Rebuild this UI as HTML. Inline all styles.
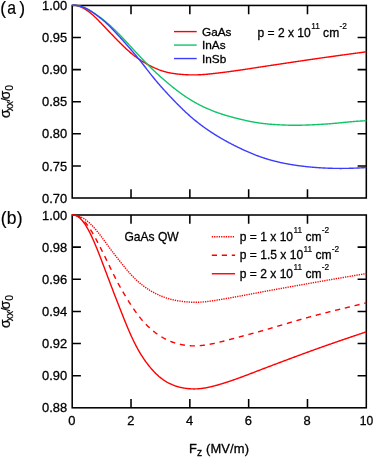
<!DOCTYPE html>
<html><head><meta charset="utf-8"><title>chart</title>
<style>html,body{margin:0;padding:0;background:#fff;}body{width:374px;height:458px;overflow:hidden;font-family:"Liberation Sans",sans-serif;}svg{display:block;will-change:transform;}</style></head>
<body>
<svg width="374" height="458" viewBox="0 0 374 458">
<rect width="374" height="458" fill="#fff"/>
<g font-family="'Liberation Sans', sans-serif" fill="#000">
<rect x="72.2" y="5.45" width="294.10" height="192.55" fill="none" stroke="#000" stroke-width="1.55"/>
<path d="M131.02 5.45 v8.7 M131.02 198.0 v-8.7 M189.84 5.45 v8.7 M189.84 198.0 v-8.7 M248.66 5.45 v8.7 M248.66 198.0 v-8.7 M307.48 5.45 v8.7 M307.48 198.0 v-8.7 M72.2 37.54 h8.7 M366.3 37.54 h-8.7 M72.2 69.63 h8.7 M366.3 69.63 h-8.7 M72.2 101.73 h8.7 M366.3 101.73 h-8.7 M72.2 133.82 h8.7 M366.3 133.82 h-8.7 M72.2 165.91 h8.7 M366.3 165.91 h-8.7" fill="none" stroke="#000" stroke-width="1.55"/>
<rect x="72.2" y="215.0" width="294.10" height="192.80" fill="none" stroke="#000" stroke-width="1.55"/>
<path d="M131.02 215.0 v8.7 M131.02 407.8 v-8.7 M189.84 215.0 v8.7 M189.84 407.8 v-8.7 M248.66 215.0 v8.7 M248.66 407.8 v-8.7 M307.48 215.0 v8.7 M307.48 407.8 v-8.7 M72.2 247.13 h8.7 M366.3 247.13 h-8.7 M72.2 279.27 h8.7 M366.3 279.27 h-8.7 M72.2 311.40 h8.7 M366.3 311.40 h-8.7 M72.2 343.53 h8.7 M366.3 343.53 h-8.7 M72.2 375.67 h8.7 M366.3 375.67 h-8.7" fill="none" stroke="#000" stroke-width="1.55"/>
<g fill="none" stroke-linejoin="round" stroke-linecap="butt">
<path d="M72.20 5.10 L72.79 5.11 L73.38 5.13 L73.96 5.17 L74.55 5.23 L75.14 5.31 L75.73 5.40 L76.32 5.51 L76.91 5.64 L77.49 5.79 L78.08 5.95 L78.67 6.13 L79.26 6.32 L79.85 6.53 L80.43 6.76 L81.02 7.01 L81.61 7.27 L82.20 7.55 L82.79 7.84 L83.38 8.15 L83.96 8.47 L84.55 8.81 L85.14 9.17 L85.73 9.54 L86.32 9.92 L86.91 10.32 L87.49 10.74 L88.08 11.16 L88.67 11.60 L89.26 12.06 L89.85 12.52 L90.43 13.00 L91.02 13.49 L91.61 13.99 L92.20 14.50 L92.79 15.02 L93.38 15.55 L93.96 16.09 L94.55 16.64 L95.14 17.20 L95.73 17.76 L96.32 18.34 L96.90 18.92 L97.49 19.50 L98.08 20.09 L98.67 20.69 L99.26 21.29 L99.85 21.89 L100.43 22.50 L101.02 23.11 L101.61 23.72 L102.20 24.34 L102.79 24.96 L103.37 25.58 L103.96 26.20 L104.55 26.82 L105.14 27.44 L105.73 28.06 L106.32 28.69 L106.90 29.31 L107.49 29.93 L108.08 30.55 L108.67 31.17 L109.26 31.79 L109.84 32.40 L110.43 33.02 L111.02 33.64 L111.61 34.25 L112.20 34.86 L112.79 35.47 L113.37 36.08 L113.96 36.69 L114.55 37.30 L115.14 37.90 L115.73 38.50 L116.31 39.11 L116.90 39.71 L117.49 40.31 L118.08 40.90 L118.67 41.50 L119.26 42.09 L119.84 42.68 L120.43 43.27 L121.02 43.85 L121.61 44.43 L122.20 45.01 L122.79 45.59 L123.37 46.16 L123.96 46.72 L124.55 47.29 L125.14 47.84 L125.73 48.39 L126.31 48.94 L126.90 49.48 L127.49 50.02 L128.08 50.55 L128.67 51.07 L129.26 51.59 L129.84 52.10 L130.43 52.60 L131.02 53.10 L131.61 53.59 L132.20 54.07 L132.78 54.55 L133.37 55.01 L133.96 55.47 L134.55 55.93 L135.14 56.37 L135.73 56.81 L136.31 57.25 L136.90 57.67 L137.49 58.09 L138.08 58.50 L138.67 58.91 L139.25 59.31 L139.84 59.70 L140.43 60.09 L141.02 60.48 L141.61 60.85 L142.20 61.23 L142.78 61.59 L143.37 61.96 L143.96 62.31 L144.55 62.67 L145.14 63.01 L145.73 63.36 L146.31 63.70 L146.90 64.03 L147.49 64.36 L148.08 64.69 L148.67 65.01 L149.25 65.32 L149.84 65.63 L150.43 65.94 L151.02 66.24 L151.61 66.54 L152.20 66.83 L152.78 67.11 L153.37 67.39 L153.96 67.67 L154.55 67.93 L155.14 68.20 L155.72 68.45 L156.31 68.71 L156.90 68.95 L157.49 69.19 L158.08 69.43 L158.67 69.65 L159.25 69.88 L159.84 70.09 L160.43 70.30 L161.02 70.50 L161.61 70.70 L162.19 70.89 L162.78 71.08 L163.37 71.26 L163.96 71.43 L164.55 71.60 L165.14 71.76 L165.72 71.92 L166.31 72.07 L166.90 72.21 L167.49 72.35 L168.08 72.49 L168.66 72.61 L169.25 72.74 L169.84 72.86 L170.43 72.97 L171.02 73.08 L171.61 73.18 L172.19 73.28 L172.78 73.38 L173.37 73.47 L173.96 73.56 L174.55 73.65 L175.14 73.73 L175.72 73.81 L176.31 73.88 L176.90 73.95 L177.49 74.02 L178.08 74.09 L178.66 74.15 L179.25 74.21 L179.84 74.27 L180.43 74.32 L181.02 74.37 L181.61 74.42 L182.19 74.47 L182.78 74.51 L183.37 74.56 L183.96 74.60 L184.55 74.63 L185.13 74.67 L185.72 74.70 L186.31 74.73 L186.90 74.76 L187.49 74.79 L188.08 74.81 L188.66 74.83 L189.25 74.85 L189.84 74.87 L190.43 74.88 L191.02 74.89 L191.60 74.90 L192.19 74.91 L192.78 74.91 L193.37 74.91 L193.96 74.91 L194.55 74.90 L195.13 74.89 L195.72 74.88 L196.31 74.87 L196.90 74.86 L197.49 74.84 L198.07 74.82 L198.66 74.79 L199.25 74.77 L199.84 74.74 L200.43 74.71 L201.02 74.68 L201.60 74.64 L202.19 74.60 L202.78 74.56 L203.37 74.52 L203.96 74.48 L204.55 74.43 L205.13 74.38 L205.72 74.34 L206.31 74.28 L206.90 74.23 L207.49 74.18 L208.07 74.12 L208.66 74.06 L209.25 74.01 L209.84 73.95 L210.43 73.89 L211.02 73.82 L211.60 73.76 L212.19 73.70 L212.78 73.63 L213.37 73.57 L213.96 73.50 L214.54 73.44 L215.13 73.37 L215.72 73.30 L216.31 73.23 L216.90 73.16 L217.49 73.09 L218.07 73.02 L218.66 72.95 L219.25 72.88 L219.84 72.81 L220.43 72.74 L221.01 72.67 L221.60 72.60 L222.19 72.52 L222.78 72.45 L223.37 72.38 L223.96 72.30 L224.54 72.23 L225.13 72.15 L225.72 72.08 L226.31 72.00 L226.90 71.92 L227.48 71.85 L228.07 71.77 L228.66 71.69 L229.25 71.62 L229.84 71.54 L230.43 71.46 L231.01 71.38 L231.60 71.30 L232.19 71.22 L232.78 71.14 L233.37 71.06 L233.96 70.98 L234.54 70.89 L235.13 70.81 L235.72 70.73 L236.31 70.65 L236.90 70.56 L237.48 70.48 L238.07 70.39 L238.66 70.31 L239.25 70.22 L239.84 70.14 L240.43 70.05 L241.01 69.97 L241.60 69.88 L242.19 69.79 L242.78 69.71 L243.37 69.62 L243.95 69.53 L244.54 69.44 L245.13 69.35 L245.72 69.26 L246.31 69.17 L246.90 69.08 L247.48 69.00 L248.07 68.91 L248.66 68.82 L249.25 68.73 L249.84 68.64 L250.42 68.54 L251.01 68.45 L251.60 68.36 L252.19 68.27 L252.78 68.18 L253.37 68.09 L253.95 68.00 L254.54 67.91 L255.13 67.82 L255.72 67.73 L256.31 67.64 L256.89 67.55 L257.48 67.46 L258.07 67.37 L258.66 67.27 L259.25 67.18 L259.84 67.09 L260.42 67.00 L261.01 66.91 L261.60 66.82 L262.19 66.73 L262.78 66.64 L263.37 66.55 L263.95 66.46 L264.54 66.37 L265.13 66.28 L265.72 66.19 L266.31 66.11 L266.89 66.02 L267.48 65.93 L268.07 65.84 L268.66 65.75 L269.25 65.66 L269.84 65.57 L270.42 65.48 L271.01 65.39 L271.60 65.30 L272.19 65.22 L272.78 65.13 L273.36 65.04 L273.95 64.95 L274.54 64.86 L275.13 64.77 L275.72 64.69 L276.31 64.60 L276.89 64.51 L277.48 64.42 L278.07 64.33 L278.66 64.24 L279.25 64.16 L279.83 64.07 L280.42 63.98 L281.01 63.89 L281.60 63.80 L282.19 63.72 L282.78 63.63 L283.36 63.54 L283.95 63.45 L284.54 63.36 L285.13 63.27 L285.72 63.19 L286.30 63.10 L286.89 63.01 L287.48 62.92 L288.07 62.84 L288.66 62.75 L289.25 62.66 L289.83 62.57 L290.42 62.48 L291.01 62.40 L291.60 62.31 L292.19 62.22 L292.77 62.13 L293.36 62.05 L293.95 61.96 L294.54 61.87 L295.13 61.78 L295.72 61.70 L296.30 61.61 L296.89 61.52 L297.48 61.43 L298.07 61.35 L298.66 61.26 L299.25 61.17 L299.83 61.09 L300.42 61.00 L301.01 60.91 L301.60 60.83 L302.19 60.74 L302.77 60.65 L303.36 60.57 L303.95 60.48 L304.54 60.39 L305.13 60.31 L305.72 60.22 L306.30 60.13 L306.89 60.05 L307.48 59.96 L308.07 59.88 L308.66 59.79 L309.24 59.71 L309.83 59.62 L310.42 59.54 L311.01 59.45 L311.60 59.37 L312.19 59.28 L312.77 59.20 L313.36 59.11 L313.95 59.03 L314.54 58.94 L315.13 58.86 L315.71 58.77 L316.30 58.69 L316.89 58.60 L317.48 58.52 L318.07 58.43 L318.66 58.35 L319.24 58.27 L319.83 58.18 L320.42 58.10 L321.01 58.02 L321.60 57.93 L322.19 57.85 L322.77 57.77 L323.36 57.68 L323.95 57.60 L324.54 57.52 L325.13 57.43 L325.71 57.35 L326.30 57.27 L326.89 57.18 L327.48 57.10 L328.07 57.02 L328.66 56.94 L329.24 56.85 L329.83 56.77 L330.42 56.69 L331.01 56.61 L331.60 56.53 L332.18 56.44 L332.77 56.36 L333.36 56.28 L333.95 56.20 L334.54 56.12 L335.13 56.04 L335.71 55.95 L336.30 55.87 L336.89 55.79 L337.48 55.71 L338.07 55.63 L338.65 55.55 L339.24 55.47 L339.83 55.39 L340.42 55.31 L341.01 55.22 L341.60 55.14 L342.18 55.06 L342.77 54.98 L343.36 54.90 L343.95 54.82 L344.54 54.74 L345.12 54.66 L345.71 54.58 L346.30 54.50 L346.89 54.42 L347.48 54.34 L348.07 54.26 L348.65 54.18 L349.24 54.10 L349.83 54.02 L350.42 53.94 L351.01 53.86 L351.60 53.78 L352.18 53.70 L352.77 53.62 L353.36 53.54 L353.95 53.47 L354.54 53.39 L355.12 53.31 L355.71 53.23 L356.30 53.15 L356.89 53.07 L357.48 52.99 L358.07 52.91 L358.65 52.83 L359.24 52.75 L359.83 52.68 L360.42 52.60 L361.01 52.52 L361.59 52.44 L362.18 52.36 L362.77 52.28 L363.36 52.20 L363.95 52.12 L364.54 52.05 L365.12 51.97 L365.71 51.89 L366.30 51.81" stroke="#ff0000" stroke-width="1.4"/>
<path d="M72.20 5.10 L72.79 5.10 L73.38 5.12 L73.96 5.15 L74.55 5.18 L75.14 5.23 L75.73 5.30 L76.32 5.37 L76.91 5.46 L77.49 5.55 L78.08 5.66 L78.67 5.79 L79.26 5.92 L79.85 6.07 L80.43 6.22 L81.02 6.39 L81.61 6.58 L82.20 6.77 L82.79 6.98 L83.38 7.20 L83.96 7.43 L84.55 7.67 L85.14 7.93 L85.73 8.20 L86.32 8.48 L86.91 8.77 L87.49 9.07 L88.08 9.38 L88.67 9.71 L89.26 10.04 L89.85 10.38 L90.43 10.73 L91.02 11.10 L91.61 11.46 L92.20 11.84 L92.79 12.22 L93.38 12.61 L93.96 13.00 L94.55 13.40 L95.14 13.81 L95.73 14.22 L96.32 14.63 L96.90 15.04 L97.49 15.46 L98.08 15.89 L98.67 16.31 L99.26 16.74 L99.85 17.18 L100.43 17.61 L101.02 18.05 L101.61 18.50 L102.20 18.95 L102.79 19.41 L103.37 19.87 L103.96 20.33 L104.55 20.81 L105.14 21.29 L105.73 21.77 L106.32 22.26 L106.90 22.76 L107.49 23.26 L108.08 23.77 L108.67 24.29 L109.26 24.81 L109.84 25.33 L110.43 25.86 L111.02 26.39 L111.61 26.93 L112.20 27.48 L112.79 28.03 L113.37 28.58 L113.96 29.14 L114.55 29.70 L115.14 30.27 L115.73 30.84 L116.31 31.41 L116.90 31.99 L117.49 32.58 L118.08 33.17 L118.67 33.76 L119.26 34.36 L119.84 34.97 L120.43 35.57 L121.02 36.18 L121.61 36.80 L122.20 37.42 L122.79 38.04 L123.37 38.66 L123.96 39.29 L124.55 39.92 L125.14 40.55 L125.73 41.18 L126.31 41.82 L126.90 42.45 L127.49 43.09 L128.08 43.72 L128.67 44.36 L129.26 45.00 L129.84 45.64 L130.43 46.28 L131.02 46.92 L131.61 47.56 L132.20 48.20 L132.78 48.84 L133.37 49.48 L133.96 50.12 L134.55 50.76 L135.14 51.39 L135.73 52.03 L136.31 52.67 L136.90 53.30 L137.49 53.93 L138.08 54.57 L138.67 55.20 L139.25 55.83 L139.84 56.45 L140.43 57.08 L141.02 57.70 L141.61 58.32 L142.20 58.94 L142.78 59.56 L143.37 60.17 L143.96 60.78 L144.55 61.39 L145.14 62.00 L145.73 62.60 L146.31 63.20 L146.90 63.80 L147.49 64.40 L148.08 64.99 L148.67 65.58 L149.25 66.16 L149.84 66.75 L150.43 67.33 L151.02 67.90 L151.61 68.47 L152.20 69.04 L152.78 69.61 L153.37 70.17 L153.96 70.73 L154.55 71.29 L155.14 71.84 L155.72 72.39 L156.31 72.94 L156.90 73.48 L157.49 74.03 L158.08 74.56 L158.67 75.10 L159.25 75.63 L159.84 76.16 L160.43 76.69 L161.02 77.21 L161.61 77.73 L162.19 78.25 L162.78 78.77 L163.37 79.28 L163.96 79.79 L164.55 80.30 L165.14 80.81 L165.72 81.31 L166.31 81.81 L166.90 82.31 L167.49 82.81 L168.08 83.30 L168.66 83.79 L169.25 84.28 L169.84 84.77 L170.43 85.25 L171.02 85.74 L171.61 86.22 L172.19 86.69 L172.78 87.17 L173.37 87.64 L173.96 88.10 L174.55 88.57 L175.14 89.03 L175.72 89.49 L176.31 89.95 L176.90 90.40 L177.49 90.85 L178.08 91.30 L178.66 91.74 L179.25 92.18 L179.84 92.61 L180.43 93.04 L181.02 93.47 L181.61 93.89 L182.19 94.31 L182.78 94.73 L183.37 95.14 L183.96 95.55 L184.55 95.95 L185.13 96.35 L185.72 96.74 L186.31 97.14 L186.90 97.52 L187.49 97.90 L188.08 98.28 L188.66 98.66 L189.25 99.03 L189.84 99.40 L190.43 99.76 L191.02 100.12 L191.60 100.47 L192.19 100.82 L192.78 101.17 L193.37 101.51 L193.96 101.85 L194.55 102.19 L195.13 102.52 L195.72 102.85 L196.31 103.17 L196.90 103.50 L197.49 103.81 L198.07 104.13 L198.66 104.44 L199.25 104.75 L199.84 105.05 L200.43 105.35 L201.02 105.65 L201.60 105.94 L202.19 106.23 L202.78 106.52 L203.37 106.80 L203.96 107.08 L204.55 107.36 L205.13 107.63 L205.72 107.90 L206.31 108.17 L206.90 108.43 L207.49 108.69 L208.07 108.95 L208.66 109.21 L209.25 109.46 L209.84 109.70 L210.43 109.95 L211.02 110.19 L211.60 110.43 L212.19 110.66 L212.78 110.90 L213.37 111.13 L213.96 111.35 L214.54 111.58 L215.13 111.80 L215.72 112.01 L216.31 112.23 L216.90 112.44 L217.49 112.65 L218.07 112.86 L218.66 113.06 L219.25 113.26 L219.84 113.46 L220.43 113.66 L221.01 113.85 L221.60 114.04 L222.19 114.23 L222.78 114.42 L223.37 114.60 L223.96 114.79 L224.54 114.97 L225.13 115.14 L225.72 115.32 L226.31 115.50 L226.90 115.67 L227.48 115.84 L228.07 116.01 L228.66 116.17 L229.25 116.34 L229.84 116.50 L230.43 116.67 L231.01 116.83 L231.60 116.99 L232.19 117.14 L232.78 117.30 L233.37 117.46 L233.96 117.61 L234.54 117.76 L235.13 117.91 L235.72 118.07 L236.31 118.21 L236.90 118.36 L237.48 118.51 L238.07 118.66 L238.66 118.80 L239.25 118.95 L239.84 119.09 L240.43 119.23 L241.01 119.37 L241.60 119.51 L242.19 119.65 L242.78 119.79 L243.37 119.93 L243.95 120.06 L244.54 120.19 L245.13 120.33 L245.72 120.46 L246.31 120.59 L246.90 120.72 L247.48 120.84 L248.07 120.97 L248.66 121.09 L249.25 121.22 L249.84 121.34 L250.42 121.46 L251.01 121.57 L251.60 121.69 L252.19 121.80 L252.78 121.91 L253.37 122.02 L253.95 122.13 L254.54 122.23 L255.13 122.33 L255.72 122.43 L256.31 122.53 L256.89 122.63 L257.48 122.72 L258.07 122.81 L258.66 122.90 L259.25 122.99 L259.84 123.07 L260.42 123.15 L261.01 123.23 L261.60 123.31 L262.19 123.39 L262.78 123.46 L263.37 123.53 L263.95 123.60 L264.54 123.67 L265.13 123.73 L265.72 123.79 L266.31 123.86 L266.89 123.91 L267.48 123.97 L268.07 124.03 L268.66 124.08 L269.25 124.13 L269.84 124.18 L270.42 124.23 L271.01 124.28 L271.60 124.32 L272.19 124.37 L272.78 124.41 L273.36 124.45 L273.95 124.49 L274.54 124.53 L275.13 124.57 L275.72 124.60 L276.31 124.64 L276.89 124.67 L277.48 124.71 L278.07 124.74 L278.66 124.77 L279.25 124.80 L279.83 124.83 L280.42 124.86 L281.01 124.89 L281.60 124.92 L282.19 124.94 L282.78 124.97 L283.36 124.99 L283.95 125.02 L284.54 125.04 L285.13 125.06 L285.72 125.08 L286.30 125.11 L286.89 125.12 L287.48 125.14 L288.07 125.16 L288.66 125.18 L289.25 125.19 L289.83 125.20 L290.42 125.22 L291.01 125.23 L291.60 125.24 L292.19 125.25 L292.77 125.25 L293.36 125.26 L293.95 125.26 L294.54 125.27 L295.13 125.27 L295.72 125.27 L296.30 125.27 L296.89 125.26 L297.48 125.26 L298.07 125.25 L298.66 125.24 L299.25 125.24 L299.83 125.22 L300.42 125.21 L301.01 125.20 L301.60 125.19 L302.19 125.17 L302.77 125.16 L303.36 125.14 L303.95 125.12 L304.54 125.10 L305.13 125.08 L305.72 125.06 L306.30 125.04 L306.89 125.02 L307.48 125.00 L308.07 124.97 L308.66 124.95 L309.24 124.93 L309.83 124.90 L310.42 124.88 L311.01 124.85 L311.60 124.83 L312.19 124.80 L312.77 124.77 L313.36 124.75 L313.95 124.72 L314.54 124.69 L315.13 124.66 L315.71 124.63 L316.30 124.60 L316.89 124.58 L317.48 124.54 L318.07 124.51 L318.66 124.48 L319.24 124.45 L319.83 124.42 L320.42 124.39 L321.01 124.35 L321.60 124.32 L322.19 124.28 L322.77 124.25 L323.36 124.21 L323.95 124.17 L324.54 124.14 L325.13 124.10 L325.71 124.06 L326.30 124.02 L326.89 123.98 L327.48 123.93 L328.07 123.89 L328.66 123.85 L329.24 123.80 L329.83 123.76 L330.42 123.71 L331.01 123.66 L331.60 123.61 L332.18 123.56 L332.77 123.51 L333.36 123.46 L333.95 123.41 L334.54 123.36 L335.13 123.31 L335.71 123.25 L336.30 123.20 L336.89 123.14 L337.48 123.08 L338.07 123.03 L338.65 122.97 L339.24 122.91 L339.83 122.85 L340.42 122.80 L341.01 122.74 L341.60 122.68 L342.18 122.62 L342.77 122.56 L343.36 122.50 L343.95 122.44 L344.54 122.38 L345.12 122.32 L345.71 122.26 L346.30 122.20 L346.89 122.15 L347.48 122.09 L348.07 122.03 L348.65 121.97 L349.24 121.92 L349.83 121.86 L350.42 121.81 L351.01 121.76 L351.60 121.70 L352.18 121.65 L352.77 121.60 L353.36 121.55 L353.95 121.50 L354.54 121.46 L355.12 121.41 L355.71 121.36 L356.30 121.32 L356.89 121.28 L357.48 121.24 L358.07 121.20 L358.65 121.16 L359.24 121.12 L359.83 121.08 L360.42 121.04 L361.01 121.01 L361.59 120.97 L362.18 120.94 L362.77 120.91 L363.36 120.87 L363.95 120.84 L364.54 120.81 L365.12 120.77 L365.71 120.74 L366.30 120.71" stroke="#10c468" stroke-width="1.4"/>
<path d="M72.20 5.10 L72.79 5.10 L73.38 5.12 L73.96 5.14 L74.55 5.18 L75.14 5.23 L75.73 5.30 L76.32 5.37 L76.91 5.46 L77.49 5.56 L78.08 5.68 L78.67 5.80 L79.26 5.94 L79.85 6.09 L80.43 6.25 L81.02 6.43 L81.61 6.62 L82.20 6.82 L82.79 7.04 L83.38 7.26 L83.96 7.50 L84.55 7.76 L85.14 8.02 L85.73 8.30 L86.32 8.59 L86.91 8.89 L87.49 9.20 L88.08 9.53 L88.67 9.86 L89.26 10.21 L89.85 10.56 L90.43 10.92 L91.02 11.30 L91.61 11.68 L92.20 12.06 L92.79 12.46 L93.38 12.86 L93.96 13.27 L94.55 13.68 L95.14 14.10 L95.73 14.53 L96.32 14.96 L96.90 15.39 L97.49 15.83 L98.08 16.27 L98.67 16.72 L99.26 17.17 L99.85 17.63 L100.43 18.09 L101.02 18.56 L101.61 19.04 L102.20 19.52 L102.79 20.01 L103.37 20.51 L103.96 21.02 L104.55 21.53 L105.14 22.05 L105.73 22.59 L106.32 23.13 L106.90 23.68 L107.49 24.23 L108.08 24.80 L108.67 25.37 L109.26 25.95 L109.84 26.54 L110.43 27.13 L111.02 27.72 L111.61 28.33 L112.20 28.93 L112.79 29.55 L113.37 30.16 L113.96 30.78 L114.55 31.40 L115.14 32.03 L115.73 32.66 L116.31 33.29 L116.90 33.93 L117.49 34.57 L118.08 35.21 L118.67 35.85 L119.26 36.49 L119.84 37.14 L120.43 37.78 L121.02 38.43 L121.61 39.09 L122.20 39.74 L122.79 40.39 L123.37 41.05 L123.96 41.71 L124.55 42.37 L125.14 43.03 L125.73 43.69 L126.31 44.36 L126.90 45.03 L127.49 45.69 L128.08 46.37 L128.67 47.04 L129.26 47.71 L129.84 48.39 L130.43 49.07 L131.02 49.75 L131.61 50.44 L132.20 51.13 L132.78 51.82 L133.37 52.51 L133.96 53.21 L134.55 53.90 L135.14 54.61 L135.73 55.31 L136.31 56.02 L136.90 56.73 L137.49 57.44 L138.08 58.16 L138.67 58.88 L139.25 59.61 L139.84 60.33 L140.43 61.07 L141.02 61.80 L141.61 62.54 L142.20 63.28 L142.78 64.03 L143.37 64.78 L143.96 65.53 L144.55 66.28 L145.14 67.04 L145.73 67.80 L146.31 68.56 L146.90 69.32 L147.49 70.08 L148.08 70.83 L148.67 71.59 L149.25 72.35 L149.84 73.10 L150.43 73.85 L151.02 74.59 L151.61 75.34 L152.20 76.08 L152.78 76.81 L153.37 77.54 L153.96 78.26 L154.55 78.98 L155.14 79.70 L155.72 80.41 L156.31 81.11 L156.90 81.81 L157.49 82.50 L158.08 83.19 L158.67 83.88 L159.25 84.56 L159.84 85.23 L160.43 85.90 L161.02 86.57 L161.61 87.24 L162.19 87.90 L162.78 88.55 L163.37 89.21 L163.96 89.86 L164.55 90.51 L165.14 91.15 L165.72 91.80 L166.31 92.44 L166.90 93.08 L167.49 93.71 L168.08 94.35 L168.66 94.98 L169.25 95.61 L169.84 96.23 L170.43 96.86 L171.02 97.48 L171.61 98.10 L172.19 98.72 L172.78 99.33 L173.37 99.94 L173.96 100.55 L174.55 101.16 L175.14 101.77 L175.72 102.37 L176.31 102.97 L176.90 103.57 L177.49 104.16 L178.08 104.76 L178.66 105.35 L179.25 105.93 L179.84 106.52 L180.43 107.10 L181.02 107.68 L181.61 108.25 L182.19 108.82 L182.78 109.39 L183.37 109.96 L183.96 110.52 L184.55 111.07 L185.13 111.63 L185.72 112.18 L186.31 112.72 L186.90 113.26 L187.49 113.80 L188.08 114.33 L188.66 114.86 L189.25 115.39 L189.84 115.91 L190.43 116.43 L191.02 116.94 L191.60 117.45 L192.19 117.95 L192.78 118.45 L193.37 118.95 L193.96 119.44 L194.55 119.93 L195.13 120.41 L195.72 120.89 L196.31 121.37 L196.90 121.84 L197.49 122.31 L198.07 122.77 L198.66 123.23 L199.25 123.69 L199.84 124.14 L200.43 124.59 L201.02 125.03 L201.60 125.47 L202.19 125.91 L202.78 126.34 L203.37 126.77 L203.96 127.20 L204.55 127.62 L205.13 128.04 L205.72 128.46 L206.31 128.87 L206.90 129.28 L207.49 129.69 L208.07 130.09 L208.66 130.49 L209.25 130.89 L209.84 131.29 L210.43 131.68 L211.02 132.07 L211.60 132.45 L212.19 132.83 L212.78 133.21 L213.37 133.59 L213.96 133.96 L214.54 134.34 L215.13 134.70 L215.72 135.07 L216.31 135.43 L216.90 135.79 L217.49 136.15 L218.07 136.51 L218.66 136.86 L219.25 137.21 L219.84 137.56 L220.43 137.90 L221.01 138.25 L221.60 138.59 L222.19 138.93 L222.78 139.26 L223.37 139.60 L223.96 139.93 L224.54 140.26 L225.13 140.59 L225.72 140.91 L226.31 141.23 L226.90 141.56 L227.48 141.87 L228.07 142.19 L228.66 142.51 L229.25 142.82 L229.84 143.13 L230.43 143.44 L231.01 143.75 L231.60 144.06 L232.19 144.36 L232.78 144.66 L233.37 144.96 L233.96 145.26 L234.54 145.56 L235.13 145.85 L235.72 146.15 L236.31 146.44 L236.90 146.73 L237.48 147.02 L238.07 147.31 L238.66 147.60 L239.25 147.88 L239.84 148.16 L240.43 148.44 L241.01 148.72 L241.60 149.00 L242.19 149.28 L242.78 149.55 L243.37 149.83 L243.95 150.10 L244.54 150.37 L245.13 150.64 L245.72 150.90 L246.31 151.17 L246.90 151.43 L247.48 151.69 L248.07 151.95 L248.66 152.20 L249.25 152.46 L249.84 152.71 L250.42 152.96 L251.01 153.21 L251.60 153.45 L252.19 153.70 L252.78 153.94 L253.37 154.17 L253.95 154.41 L254.54 154.64 L255.13 154.87 L255.72 155.10 L256.31 155.33 L256.89 155.55 L257.48 155.77 L258.07 155.99 L258.66 156.21 L259.25 156.42 L259.84 156.63 L260.42 156.84 L261.01 157.04 L261.60 157.25 L262.19 157.45 L262.78 157.64 L263.37 157.84 L263.95 158.03 L264.54 158.22 L265.13 158.41 L265.72 158.59 L266.31 158.78 L266.89 158.96 L267.48 159.13 L268.07 159.31 L268.66 159.48 L269.25 159.65 L269.84 159.82 L270.42 159.99 L271.01 160.15 L271.60 160.31 L272.19 160.47 L272.78 160.63 L273.36 160.78 L273.95 160.93 L274.54 161.08 L275.13 161.23 L275.72 161.38 L276.31 161.52 L276.89 161.66 L277.48 161.80 L278.07 161.94 L278.66 162.08 L279.25 162.21 L279.83 162.34 L280.42 162.48 L281.01 162.60 L281.60 162.73 L282.19 162.86 L282.78 162.98 L283.36 163.10 L283.95 163.22 L284.54 163.34 L285.13 163.45 L285.72 163.57 L286.30 163.68 L286.89 163.79 L287.48 163.90 L288.07 164.01 L288.66 164.12 L289.25 164.22 L289.83 164.32 L290.42 164.42 L291.01 164.52 L291.60 164.62 L292.19 164.72 L292.77 164.81 L293.36 164.91 L293.95 165.00 L294.54 165.09 L295.13 165.18 L295.72 165.27 L296.30 165.36 L296.89 165.44 L297.48 165.52 L298.07 165.61 L298.66 165.69 L299.25 165.77 L299.83 165.84 L300.42 165.92 L301.01 166.00 L301.60 166.07 L302.19 166.14 L302.77 166.21 L303.36 166.28 L303.95 166.35 L304.54 166.42 L305.13 166.49 L305.72 166.55 L306.30 166.62 L306.89 166.68 L307.48 166.74 L308.07 166.80 L308.66 166.86 L309.24 166.92 L309.83 166.98 L310.42 167.03 L311.01 167.09 L311.60 167.14 L312.19 167.19 L312.77 167.24 L313.36 167.29 L313.95 167.34 L314.54 167.39 L315.13 167.44 L315.71 167.48 L316.30 167.53 L316.89 167.57 L317.48 167.61 L318.07 167.65 L318.66 167.69 L319.24 167.73 L319.83 167.77 L320.42 167.81 L321.01 167.84 L321.60 167.88 L322.19 167.91 L322.77 167.94 L323.36 167.97 L323.95 168.00 L324.54 168.03 L325.13 168.06 L325.71 168.09 L326.30 168.11 L326.89 168.14 L327.48 168.16 L328.07 168.18 L328.66 168.21 L329.24 168.23 L329.83 168.25 L330.42 168.27 L331.01 168.28 L331.60 168.30 L332.18 168.32 L332.77 168.33 L333.36 168.34 L333.95 168.36 L334.54 168.37 L335.13 168.38 L335.71 168.39 L336.30 168.40 L336.89 168.40 L337.48 168.41 L338.07 168.42 L338.65 168.42 L339.24 168.42 L339.83 168.43 L340.42 168.43 L341.01 168.43 L341.60 168.43 L342.18 168.42 L342.77 168.42 L343.36 168.42 L343.95 168.41 L344.54 168.41 L345.12 168.40 L345.71 168.39 L346.30 168.38 L346.89 168.37 L347.48 168.36 L348.07 168.35 L348.65 168.34 L349.24 168.32 L349.83 168.31 L350.42 168.29 L351.01 168.27 L351.60 168.26 L352.18 168.24 L352.77 168.22 L353.36 168.20 L353.95 168.17 L354.54 168.15 L355.12 168.13 L355.71 168.10 L356.30 168.08 L356.89 168.05 L357.48 168.02 L358.07 167.99 L358.65 167.97 L359.24 167.94 L359.83 167.91 L360.42 167.87 L361.01 167.84 L361.59 167.81 L362.18 167.78 L362.77 167.75 L363.36 167.71 L363.95 167.68 L364.54 167.65 L365.12 167.62 L365.71 167.58 L366.30 167.55" stroke="#3c3cff" stroke-width="1.4"/>
<path d="M72.20 215.00 L72.79 214.99 L73.38 215.00 L73.96 215.03 L74.55 215.08 L75.14 215.16 L75.73 215.25 L76.32 215.36 L76.91 215.49 L77.49 215.64 L78.08 215.81 L78.67 216.01 L79.26 216.22 L79.85 216.45 L80.43 216.70 L81.02 216.97 L81.61 217.27 L82.20 217.58 L82.79 217.91 L83.38 218.25 L83.96 218.62 L84.55 219.01 L85.14 219.41 L85.73 219.83 L86.32 220.27 L86.91 220.73 L87.49 221.21 L88.08 221.70 L88.67 222.21 L89.26 222.74 L89.85 223.28 L90.43 223.84 L91.02 224.41 L91.61 225.00 L92.20 225.61 L92.79 226.23 L93.38 226.87 L93.96 227.52 L94.55 228.18 L95.14 228.86 L95.73 229.55 L96.32 230.26 L96.90 230.97 L97.49 231.70 L98.08 232.44 L98.67 233.19 L99.26 233.94 L99.85 234.71 L100.43 235.48 L101.02 236.26 L101.61 237.04 L102.20 237.83 L102.79 238.63 L103.37 239.43 L103.96 240.23 L104.55 241.03 L105.14 241.83 L105.73 242.64 L106.32 243.44 L106.90 244.24 L107.49 245.04 L108.08 245.84 L108.67 246.64 L109.26 247.44 L109.84 248.23 L110.43 249.02 L111.02 249.80 L111.61 250.59 L112.20 251.37 L112.79 252.14 L113.37 252.92 L113.96 253.69 L114.55 254.45 L115.14 255.22 L115.73 255.98 L116.31 256.74 L116.90 257.49 L117.49 258.25 L118.08 259.00 L118.67 259.74 L119.26 260.49 L119.84 261.23 L120.43 261.98 L121.02 262.71 L121.61 263.45 L122.20 264.18 L122.79 264.91 L123.37 265.64 L123.96 266.36 L124.55 267.08 L125.14 267.79 L125.73 268.50 L126.31 269.20 L126.90 269.90 L127.49 270.59 L128.08 271.28 L128.67 271.95 L129.26 272.62 L129.84 273.29 L130.43 273.94 L131.02 274.59 L131.61 275.22 L132.20 275.85 L132.78 276.47 L133.37 277.08 L133.96 277.67 L134.55 278.26 L135.14 278.84 L135.73 279.41 L136.31 279.97 L136.90 280.52 L137.49 281.06 L138.08 281.59 L138.67 282.11 L139.25 282.62 L139.84 283.12 L140.43 283.61 L141.02 284.09 L141.61 284.56 L142.20 285.02 L142.78 285.48 L143.37 285.92 L143.96 286.36 L144.55 286.79 L145.14 287.21 L145.73 287.62 L146.31 288.03 L146.90 288.43 L147.49 288.82 L148.08 289.20 L148.67 289.58 L149.25 289.95 L149.84 290.32 L150.43 290.67 L151.02 291.02 L151.61 291.37 L152.20 291.71 L152.78 292.04 L153.37 292.36 L153.96 292.68 L154.55 292.99 L155.14 293.30 L155.72 293.60 L156.31 293.89 L156.90 294.18 L157.49 294.46 L158.08 294.73 L158.67 295.00 L159.25 295.27 L159.84 295.52 L160.43 295.77 L161.02 296.02 L161.61 296.26 L162.19 296.49 L162.78 296.72 L163.37 296.94 L163.96 297.15 L164.55 297.36 L165.14 297.57 L165.72 297.77 L166.31 297.96 L166.90 298.15 L167.49 298.33 L168.08 298.51 L168.66 298.69 L169.25 298.85 L169.84 299.02 L170.43 299.18 L171.02 299.33 L171.61 299.48 L172.19 299.62 L172.78 299.76 L173.37 299.90 L173.96 300.03 L174.55 300.15 L175.14 300.27 L175.72 300.39 L176.31 300.50 L176.90 300.61 L177.49 300.72 L178.08 300.82 L178.66 300.92 L179.25 301.01 L179.84 301.10 L180.43 301.18 L181.02 301.27 L181.61 301.34 L182.19 301.42 L182.78 301.49 L183.37 301.56 L183.96 301.62 L184.55 301.69 L185.13 301.74 L185.72 301.80 L186.31 301.85 L186.90 301.90 L187.49 301.95 L188.08 301.99 L188.66 302.03 L189.25 302.07 L189.84 302.10 L190.43 302.13 L191.02 302.16 L191.60 302.18 L192.19 302.20 L192.78 302.22 L193.37 302.23 L193.96 302.24 L194.55 302.25 L195.13 302.25 L195.72 302.25 L196.31 302.25 L196.90 302.24 L197.49 302.23 L198.07 302.22 L198.66 302.20 L199.25 302.17 L199.84 302.15 L200.43 302.12 L201.02 302.08 L201.60 302.05 L202.19 302.01 L202.78 301.96 L203.37 301.92 L203.96 301.86 L204.55 301.81 L205.13 301.75 L205.72 301.69 L206.31 301.63 L206.90 301.57 L207.49 301.50 L208.07 301.43 L208.66 301.35 L209.25 301.28 L209.84 301.20 L210.43 301.12 L211.02 301.04 L211.60 300.96 L212.19 300.87 L212.78 300.78 L213.37 300.70 L213.96 300.61 L214.54 300.51 L215.13 300.42 L215.72 300.33 L216.31 300.23 L216.90 300.14 L217.49 300.04 L218.07 299.95 L218.66 299.85 L219.25 299.75 L219.84 299.65 L220.43 299.55 L221.01 299.45 L221.60 299.35 L222.19 299.25 L222.78 299.15 L223.37 299.05 L223.96 298.94 L224.54 298.84 L225.13 298.74 L225.72 298.64 L226.31 298.53 L226.90 298.43 L227.48 298.33 L228.07 298.22 L228.66 298.12 L229.25 298.01 L229.84 297.91 L230.43 297.80 L231.01 297.70 L231.60 297.59 L232.19 297.49 L232.78 297.38 L233.37 297.28 L233.96 297.17 L234.54 297.06 L235.13 296.96 L235.72 296.85 L236.31 296.74 L236.90 296.63 L237.48 296.53 L238.07 296.42 L238.66 296.31 L239.25 296.20 L239.84 296.09 L240.43 295.98 L241.01 295.87 L241.60 295.76 L242.19 295.65 L242.78 295.54 L243.37 295.43 L243.95 295.32 L244.54 295.21 L245.13 295.10 L245.72 294.99 L246.31 294.88 L246.90 294.76 L247.48 294.65 L248.07 294.54 L248.66 294.43 L249.25 294.32 L249.84 294.20 L250.42 294.09 L251.01 293.98 L251.60 293.87 L252.19 293.75 L252.78 293.64 L253.37 293.53 L253.95 293.42 L254.54 293.31 L255.13 293.19 L255.72 293.08 L256.31 292.97 L256.89 292.86 L257.48 292.75 L258.07 292.64 L258.66 292.53 L259.25 292.42 L259.84 292.31 L260.42 292.20 L261.01 292.09 L261.60 291.98 L262.19 291.87 L262.78 291.76 L263.37 291.65 L263.95 291.54 L264.54 291.43 L265.13 291.32 L265.72 291.22 L266.31 291.11 L266.89 291.00 L267.48 290.89 L268.07 290.79 L268.66 290.68 L269.25 290.57 L269.84 290.47 L270.42 290.36 L271.01 290.25 L271.60 290.15 L272.19 290.04 L272.78 289.93 L273.36 289.83 L273.95 289.72 L274.54 289.62 L275.13 289.51 L275.72 289.40 L276.31 289.30 L276.89 289.19 L277.48 289.09 L278.07 288.98 L278.66 288.88 L279.25 288.77 L279.83 288.66 L280.42 288.56 L281.01 288.45 L281.60 288.35 L282.19 288.24 L282.78 288.14 L283.36 288.03 L283.95 287.93 L284.54 287.82 L285.13 287.71 L285.72 287.61 L286.30 287.50 L286.89 287.40 L287.48 287.29 L288.07 287.18 L288.66 287.08 L289.25 286.97 L289.83 286.87 L290.42 286.76 L291.01 286.65 L291.60 286.55 L292.19 286.44 L292.77 286.34 L293.36 286.23 L293.95 286.12 L294.54 286.02 L295.13 285.91 L295.72 285.81 L296.30 285.70 L296.89 285.59 L297.48 285.49 L298.07 285.38 L298.66 285.28 L299.25 285.17 L299.83 285.06 L300.42 284.96 L301.01 284.85 L301.60 284.75 L302.19 284.64 L302.77 284.54 L303.36 284.43 L303.95 284.33 L304.54 284.22 L305.13 284.12 L305.72 284.01 L306.30 283.91 L306.89 283.80 L307.48 283.70 L308.07 283.59 L308.66 283.49 L309.24 283.38 L309.83 283.28 L310.42 283.17 L311.01 283.07 L311.60 282.96 L312.19 282.86 L312.77 282.75 L313.36 282.65 L313.95 282.55 L314.54 282.44 L315.13 282.34 L315.71 282.24 L316.30 282.13 L316.89 282.03 L317.48 281.93 L318.07 281.82 L318.66 281.72 L319.24 281.62 L319.83 281.51 L320.42 281.41 L321.01 281.31 L321.60 281.20 L322.19 281.10 L322.77 281.00 L323.36 280.90 L323.95 280.79 L324.54 280.69 L325.13 280.59 L325.71 280.49 L326.30 280.38 L326.89 280.28 L327.48 280.18 L328.07 280.08 L328.66 279.98 L329.24 279.87 L329.83 279.77 L330.42 279.67 L331.01 279.57 L331.60 279.47 L332.18 279.37 L332.77 279.27 L333.36 279.16 L333.95 279.06 L334.54 278.96 L335.13 278.86 L335.71 278.76 L336.30 278.66 L336.89 278.56 L337.48 278.46 L338.07 278.36 L338.65 278.26 L339.24 278.16 L339.83 278.05 L340.42 277.95 L341.01 277.85 L341.60 277.75 L342.18 277.65 L342.77 277.55 L343.36 277.45 L343.95 277.35 L344.54 277.25 L345.12 277.15 L345.71 277.05 L346.30 276.95 L346.89 276.85 L347.48 276.75 L348.07 276.65 L348.65 276.55 L349.24 276.45 L349.83 276.35 L350.42 276.25 L351.01 276.16 L351.60 276.06 L352.18 275.96 L352.77 275.86 L353.36 275.76 L353.95 275.66 L354.54 275.56 L355.12 275.46 L355.71 275.36 L356.30 275.26 L356.89 275.16 L357.48 275.06 L358.07 274.96 L358.65 274.87 L359.24 274.77 L359.83 274.67 L360.42 274.57 L361.01 274.47 L361.59 274.37 L362.18 274.27 L362.77 274.17 L363.36 274.07 L363.95 273.97 L364.54 273.88 L365.12 273.78 L365.71 273.68 L366.30 273.58" stroke="#ff0000" stroke-width="1.4" stroke-dasharray="1.3 1.03"/>
<path d="M72.20 215.00 L72.79 214.98 L73.38 215.00 L73.96 215.05 L74.55 215.14 L75.14 215.25 L75.73 215.40 L76.32 215.59 L76.91 215.80 L77.49 216.05 L78.08 216.34 L78.67 216.65 L79.26 217.00 L79.85 217.39 L80.43 217.80 L81.02 218.25 L81.61 218.73 L82.20 219.25 L82.79 219.80 L83.38 220.38 L83.96 220.99 L84.55 221.63 L85.14 222.30 L85.73 223.00 L86.32 223.73 L86.91 224.49 L87.49 225.28 L88.08 226.10 L88.67 226.94 L89.26 227.80 L89.85 228.69 L90.43 229.60 L91.02 230.54 L91.61 231.49 L92.20 232.47 L92.79 233.46 L93.38 234.47 L93.96 235.50 L94.55 236.55 L95.14 237.60 L95.73 238.68 L96.32 239.76 L96.90 240.86 L97.49 241.97 L98.08 243.09 L98.67 244.22 L99.26 245.36 L99.85 246.51 L100.43 247.66 L101.02 248.83 L101.61 250.00 L102.20 251.18 L102.79 252.36 L103.37 253.55 L103.96 254.75 L104.55 255.95 L105.14 257.15 L105.73 258.36 L106.32 259.57 L106.90 260.79 L107.49 262.00 L108.08 263.22 L108.67 264.43 L109.26 265.65 L109.84 266.86 L110.43 268.07 L111.02 269.28 L111.61 270.48 L112.20 271.68 L112.79 272.87 L113.37 274.06 L113.96 275.23 L114.55 276.40 L115.14 277.57 L115.73 278.72 L116.31 279.86 L116.90 280.99 L117.49 282.11 L118.08 283.22 L118.67 284.31 L119.26 285.40 L119.84 286.47 L120.43 287.53 L121.02 288.58 L121.61 289.62 L122.20 290.64 L122.79 291.66 L123.37 292.66 L123.96 293.66 L124.55 294.64 L125.14 295.62 L125.73 296.59 L126.31 297.55 L126.90 298.50 L127.49 299.45 L128.08 300.39 L128.67 301.33 L129.26 302.26 L129.84 303.18 L130.43 304.09 L131.02 305.00 L131.61 305.90 L132.20 306.79 L132.78 307.67 L133.37 308.55 L133.96 309.41 L134.55 310.27 L135.14 311.11 L135.73 311.95 L136.31 312.77 L136.90 313.58 L137.49 314.38 L138.08 315.16 L138.67 315.94 L139.25 316.69 L139.84 317.44 L140.43 318.17 L141.02 318.89 L141.61 319.59 L142.20 320.29 L142.78 320.96 L143.37 321.63 L143.96 322.28 L144.55 322.92 L145.14 323.54 L145.73 324.16 L146.31 324.76 L146.90 325.35 L147.49 325.92 L148.08 326.49 L148.67 327.05 L149.25 327.59 L149.84 328.13 L150.43 328.65 L151.02 329.16 L151.61 329.67 L152.20 330.16 L152.78 330.65 L153.37 331.13 L153.96 331.59 L154.55 332.05 L155.14 332.50 L155.72 332.94 L156.31 333.38 L156.90 333.80 L157.49 334.22 L158.08 334.62 L158.67 335.02 L159.25 335.41 L159.84 335.79 L160.43 336.17 L161.02 336.54 L161.61 336.89 L162.19 337.24 L162.78 337.59 L163.37 337.92 L163.96 338.25 L164.55 338.57 L165.14 338.88 L165.72 339.18 L166.31 339.47 L166.90 339.76 L167.49 340.04 L168.08 340.31 L168.66 340.58 L169.25 340.83 L169.84 341.08 L170.43 341.32 L171.02 341.56 L171.61 341.78 L172.19 342.01 L172.78 342.22 L173.37 342.42 L173.96 342.62 L174.55 342.82 L175.14 343.00 L175.72 343.18 L176.31 343.35 L176.90 343.52 L177.49 343.68 L178.08 343.84 L178.66 343.98 L179.25 344.13 L179.84 344.26 L180.43 344.39 L181.02 344.52 L181.61 344.64 L182.19 344.75 L182.78 344.86 L183.37 344.96 L183.96 345.06 L184.55 345.15 L185.13 345.23 L185.72 345.32 L186.31 345.39 L186.90 345.46 L187.49 345.53 L188.08 345.59 L188.66 345.64 L189.25 345.69 L189.84 345.73 L190.43 345.77 L191.02 345.81 L191.60 345.83 L192.19 345.85 L192.78 345.87 L193.37 345.88 L193.96 345.89 L194.55 345.89 L195.13 345.88 L195.72 345.87 L196.31 345.86 L196.90 345.84 L197.49 345.81 L198.07 345.78 L198.66 345.74 L199.25 345.70 L199.84 345.65 L200.43 345.60 L201.02 345.55 L201.60 345.49 L202.19 345.42 L202.78 345.36 L203.37 345.28 L203.96 345.21 L204.55 345.13 L205.13 345.05 L205.72 344.96 L206.31 344.87 L206.90 344.78 L207.49 344.68 L208.07 344.58 L208.66 344.48 L209.25 344.37 L209.84 344.27 L210.43 344.16 L211.02 344.04 L211.60 343.93 L212.19 343.81 L212.78 343.69 L213.37 343.56 L213.96 343.44 L214.54 343.31 L215.13 343.18 L215.72 343.05 L216.31 342.92 L216.90 342.78 L217.49 342.65 L218.07 342.51 L218.66 342.37 L219.25 342.23 L219.84 342.09 L220.43 341.94 L221.01 341.80 L221.60 341.65 L222.19 341.50 L222.78 341.35 L223.37 341.20 L223.96 341.05 L224.54 340.90 L225.13 340.75 L225.72 340.60 L226.31 340.44 L226.90 340.29 L227.48 340.13 L228.07 339.98 L228.66 339.82 L229.25 339.67 L229.84 339.51 L230.43 339.36 L231.01 339.20 L231.60 339.04 L232.19 338.88 L232.78 338.73 L233.37 338.57 L233.96 338.41 L234.54 338.25 L235.13 338.10 L235.72 337.94 L236.31 337.78 L236.90 337.63 L237.48 337.47 L238.07 337.31 L238.66 337.15 L239.25 337.00 L239.84 336.84 L240.43 336.68 L241.01 336.52 L241.60 336.37 L242.19 336.21 L242.78 336.05 L243.37 335.90 L243.95 335.74 L244.54 335.58 L245.13 335.42 L245.72 335.27 L246.31 335.11 L246.90 334.95 L247.48 334.80 L248.07 334.64 L248.66 334.48 L249.25 334.32 L249.84 334.16 L250.42 334.00 L251.01 333.85 L251.60 333.69 L252.19 333.53 L252.78 333.37 L253.37 333.21 L253.95 333.05 L254.54 332.89 L255.13 332.72 L255.72 332.56 L256.31 332.40 L256.89 332.24 L257.48 332.08 L258.07 331.91 L258.66 331.75 L259.25 331.58 L259.84 331.42 L260.42 331.25 L261.01 331.09 L261.60 330.92 L262.19 330.75 L262.78 330.59 L263.37 330.42 L263.95 330.25 L264.54 330.08 L265.13 329.91 L265.72 329.74 L266.31 329.57 L266.89 329.40 L267.48 329.23 L268.07 329.06 L268.66 328.89 L269.25 328.72 L269.84 328.55 L270.42 328.37 L271.01 328.20 L271.60 328.03 L272.19 327.85 L272.78 327.68 L273.36 327.51 L273.95 327.33 L274.54 327.16 L275.13 326.98 L275.72 326.81 L276.31 326.64 L276.89 326.46 L277.48 326.29 L278.07 326.11 L278.66 325.94 L279.25 325.76 L279.83 325.59 L280.42 325.41 L281.01 325.24 L281.60 325.06 L282.19 324.88 L282.78 324.71 L283.36 324.53 L283.95 324.36 L284.54 324.18 L285.13 324.01 L285.72 323.84 L286.30 323.66 L286.89 323.49 L287.48 323.31 L288.07 323.14 L288.66 322.96 L289.25 322.79 L289.83 322.62 L290.42 322.44 L291.01 322.27 L291.60 322.10 L292.19 321.92 L292.77 321.75 L293.36 321.58 L293.95 321.41 L294.54 321.24 L295.13 321.06 L295.72 320.89 L296.30 320.72 L296.89 320.55 L297.48 320.38 L298.07 320.21 L298.66 320.05 L299.25 319.88 L299.83 319.71 L300.42 319.54 L301.01 319.37 L301.60 319.21 L302.19 319.04 L302.77 318.87 L303.36 318.71 L303.95 318.54 L304.54 318.38 L305.13 318.22 L305.72 318.05 L306.30 317.89 L306.89 317.73 L307.48 317.56 L308.07 317.40 L308.66 317.24 L309.24 317.08 L309.83 316.92 L310.42 316.76 L311.01 316.60 L311.60 316.45 L312.19 316.29 L312.77 316.13 L313.36 315.97 L313.95 315.82 L314.54 315.66 L315.13 315.51 L315.71 315.35 L316.30 315.20 L316.89 315.04 L317.48 314.89 L318.07 314.74 L318.66 314.58 L319.24 314.43 L319.83 314.28 L320.42 314.13 L321.01 313.98 L321.60 313.83 L322.19 313.68 L322.77 313.53 L323.36 313.38 L323.95 313.23 L324.54 313.08 L325.13 312.93 L325.71 312.78 L326.30 312.64 L326.89 312.49 L327.48 312.34 L328.07 312.19 L328.66 312.05 L329.24 311.90 L329.83 311.75 L330.42 311.61 L331.01 311.46 L331.60 311.32 L332.18 311.17 L332.77 311.03 L333.36 310.88 L333.95 310.74 L334.54 310.59 L335.13 310.45 L335.71 310.30 L336.30 310.16 L336.89 310.02 L337.48 309.87 L338.07 309.73 L338.65 309.58 L339.24 309.44 L339.83 309.30 L340.42 309.15 L341.01 309.01 L341.60 308.87 L342.18 308.72 L342.77 308.58 L343.36 308.44 L343.95 308.30 L344.54 308.15 L345.12 308.01 L345.71 307.87 L346.30 307.72 L346.89 307.58 L347.48 307.44 L348.07 307.29 L348.65 307.15 L349.24 307.01 L349.83 306.86 L350.42 306.72 L351.01 306.58 L351.60 306.43 L352.18 306.29 L352.77 306.14 L353.36 306.00 L353.95 305.86 L354.54 305.71 L355.12 305.57 L355.71 305.42 L356.30 305.28 L356.89 305.13 L357.48 304.99 L358.07 304.84 L358.65 304.70 L359.24 304.55 L359.83 304.41 L360.42 304.26 L361.01 304.12 L361.59 303.97 L362.18 303.83 L362.77 303.68 L363.36 303.54 L363.95 303.39 L364.54 303.25 L365.12 303.10 L365.71 302.95 L366.30 302.81" stroke="#ff0000" stroke-width="1.4" stroke-dasharray="5.2 4.8" stroke-dashoffset="5.5"/>
<path d="M72.20 215.00 L72.79 214.98 L73.38 215.00 L73.96 215.06 L74.55 215.17 L75.14 215.32 L75.73 215.51 L76.32 215.75 L76.91 216.03 L77.49 216.36 L78.08 216.72 L78.67 217.13 L79.26 217.59 L79.85 218.09 L80.43 218.63 L81.02 219.21 L81.61 219.84 L82.20 220.51 L82.79 221.22 L83.38 221.97 L83.96 222.76 L84.55 223.59 L85.14 224.46 L85.73 225.37 L86.32 226.32 L86.91 227.30 L87.49 228.32 L88.08 229.37 L88.67 230.46 L89.26 231.58 L89.85 232.73 L90.43 233.91 L91.02 235.12 L91.61 236.36 L92.20 237.63 L92.79 238.92 L93.38 240.24 L93.96 241.58 L94.55 242.95 L95.14 244.33 L95.73 245.74 L96.32 247.16 L96.90 248.60 L97.49 250.06 L98.08 251.53 L98.67 253.01 L99.26 254.51 L99.85 256.02 L100.43 257.53 L101.02 259.06 L101.61 260.60 L102.20 262.14 L102.79 263.68 L103.37 265.23 L103.96 266.79 L104.55 268.35 L105.14 269.90 L105.73 271.46 L106.32 273.03 L106.90 274.59 L107.49 276.15 L108.08 277.70 L108.67 279.26 L109.26 280.82 L109.84 282.37 L110.43 283.92 L111.02 285.47 L111.61 287.01 L112.20 288.55 L112.79 290.09 L113.37 291.63 L113.96 293.16 L114.55 294.69 L115.14 296.22 L115.73 297.74 L116.31 299.26 L116.90 300.78 L117.49 302.30 L118.08 303.81 L118.67 305.32 L119.26 306.83 L119.84 308.33 L120.43 309.83 L121.02 311.33 L121.61 312.82 L122.20 314.31 L122.79 315.79 L123.37 317.26 L123.96 318.73 L124.55 320.18 L125.14 321.63 L125.73 323.07 L126.31 324.50 L126.90 325.92 L127.49 327.32 L128.08 328.71 L128.67 330.09 L129.26 331.45 L129.84 332.79 L130.43 334.12 L131.02 335.43 L131.61 336.72 L132.20 337.99 L132.78 339.25 L133.37 340.48 L133.96 341.69 L134.55 342.88 L135.14 344.05 L135.73 345.19 L136.31 346.32 L136.90 347.42 L137.49 348.50 L138.08 349.56 L138.67 350.60 L139.25 351.62 L139.84 352.62 L140.43 353.59 L141.02 354.55 L141.61 355.49 L142.20 356.41 L142.78 357.31 L143.37 358.20 L143.96 359.07 L144.55 359.92 L145.14 360.75 L145.73 361.58 L146.31 362.38 L146.90 363.17 L147.49 363.95 L148.08 364.71 L148.67 365.46 L149.25 366.20 L149.84 366.92 L150.43 367.63 L151.02 368.33 L151.61 369.01 L152.20 369.68 L152.78 370.33 L153.37 370.98 L153.96 371.61 L154.55 372.22 L155.14 372.82 L155.72 373.41 L156.31 373.99 L156.90 374.55 L157.49 375.10 L158.08 375.64 L158.67 376.16 L159.25 376.67 L159.84 377.16 L160.43 377.64 L161.02 378.11 L161.61 378.57 L162.19 379.01 L162.78 379.44 L163.37 379.86 L163.96 380.26 L164.55 380.65 L165.14 381.03 L165.72 381.40 L166.31 381.75 L166.90 382.10 L167.49 382.43 L168.08 382.75 L168.66 383.06 L169.25 383.36 L169.84 383.65 L170.43 383.93 L171.02 384.20 L171.61 384.46 L172.19 384.72 L172.78 384.96 L173.37 385.19 L173.96 385.41 L174.55 385.63 L175.14 385.84 L175.72 386.04 L176.31 386.23 L176.90 386.41 L177.49 386.59 L178.08 386.76 L178.66 386.92 L179.25 387.07 L179.84 387.22 L180.43 387.36 L181.02 387.49 L181.61 387.62 L182.19 387.74 L182.78 387.86 L183.37 387.96 L183.96 388.07 L184.55 388.16 L185.13 388.25 L185.72 388.34 L186.31 388.42 L186.90 388.49 L187.49 388.56 L188.08 388.62 L188.66 388.68 L189.25 388.73 L189.84 388.78 L190.43 388.82 L191.02 388.85 L191.60 388.88 L192.19 388.90 L192.78 388.92 L193.37 388.93 L193.96 388.93 L194.55 388.93 L195.13 388.92 L195.72 388.91 L196.31 388.89 L196.90 388.87 L197.49 388.84 L198.07 388.80 L198.66 388.76 L199.25 388.71 L199.84 388.66 L200.43 388.60 L201.02 388.53 L201.60 388.46 L202.19 388.39 L202.78 388.31 L203.37 388.23 L203.96 388.14 L204.55 388.04 L205.13 387.94 L205.72 387.84 L206.31 387.73 L206.90 387.62 L207.49 387.51 L208.07 387.39 L208.66 387.26 L209.25 387.14 L209.84 387.01 L210.43 386.87 L211.02 386.73 L211.60 386.59 L212.19 386.45 L212.78 386.30 L213.37 386.16 L213.96 386.00 L214.54 385.85 L215.13 385.69 L215.72 385.53 L216.31 385.37 L216.90 385.21 L217.49 385.04 L218.07 384.88 L218.66 384.71 L219.25 384.53 L219.84 384.36 L220.43 384.19 L221.01 384.01 L221.60 383.83 L222.19 383.65 L222.78 383.47 L223.37 383.29 L223.96 383.10 L224.54 382.92 L225.13 382.73 L225.72 382.54 L226.31 382.35 L226.90 382.16 L227.48 381.97 L228.07 381.78 L228.66 381.58 L229.25 381.39 L229.84 381.19 L230.43 380.99 L231.01 380.79 L231.60 380.59 L232.19 380.39 L232.78 380.19 L233.37 379.99 L233.96 379.78 L234.54 379.58 L235.13 379.37 L235.72 379.16 L236.31 378.95 L236.90 378.74 L237.48 378.53 L238.07 378.32 L238.66 378.11 L239.25 377.90 L239.84 377.68 L240.43 377.47 L241.01 377.25 L241.60 377.03 L242.19 376.81 L242.78 376.60 L243.37 376.38 L243.95 376.16 L244.54 375.93 L245.13 375.71 L245.72 375.49 L246.31 375.27 L246.90 375.04 L247.48 374.82 L248.07 374.60 L248.66 374.37 L249.25 374.15 L249.84 373.92 L250.42 373.69 L251.01 373.47 L251.60 373.24 L252.19 373.02 L252.78 372.79 L253.37 372.56 L253.95 372.33 L254.54 372.11 L255.13 371.88 L255.72 371.65 L256.31 371.43 L256.89 371.20 L257.48 370.97 L258.07 370.75 L258.66 370.52 L259.25 370.29 L259.84 370.07 L260.42 369.84 L261.01 369.62 L261.60 369.39 L262.19 369.17 L262.78 368.94 L263.37 368.72 L263.95 368.49 L264.54 368.27 L265.13 368.04 L265.72 367.82 L266.31 367.59 L266.89 367.37 L267.48 367.15 L268.07 366.92 L268.66 366.70 L269.25 366.48 L269.84 366.26 L270.42 366.03 L271.01 365.81 L271.60 365.59 L272.19 365.37 L272.78 365.15 L273.36 364.93 L273.95 364.70 L274.54 364.48 L275.13 364.26 L275.72 364.04 L276.31 363.82 L276.89 363.60 L277.48 363.38 L278.07 363.16 L278.66 362.94 L279.25 362.72 L279.83 362.50 L280.42 362.27 L281.01 362.05 L281.60 361.83 L282.19 361.61 L282.78 361.39 L283.36 361.17 L283.95 360.95 L284.54 360.73 L285.13 360.51 L285.72 360.29 L286.30 360.07 L286.89 359.85 L287.48 359.63 L288.07 359.41 L288.66 359.19 L289.25 358.97 L289.83 358.75 L290.42 358.53 L291.01 358.31 L291.60 358.10 L292.19 357.88 L292.77 357.66 L293.36 357.44 L293.95 357.22 L294.54 357.00 L295.13 356.78 L295.72 356.56 L296.30 356.34 L296.89 356.13 L297.48 355.91 L298.07 355.69 L298.66 355.47 L299.25 355.25 L299.83 355.04 L300.42 354.82 L301.01 354.60 L301.60 354.39 L302.19 354.17 L302.77 353.95 L303.36 353.74 L303.95 353.52 L304.54 353.31 L305.13 353.09 L305.72 352.87 L306.30 352.66 L306.89 352.44 L307.48 352.23 L308.07 352.01 L308.66 351.80 L309.24 351.59 L309.83 351.37 L310.42 351.16 L311.01 350.95 L311.60 350.73 L312.19 350.52 L312.77 350.31 L313.36 350.10 L313.95 349.88 L314.54 349.67 L315.13 349.46 L315.71 349.25 L316.30 349.04 L316.89 348.83 L317.48 348.62 L318.07 348.41 L318.66 348.20 L319.24 347.99 L319.83 347.78 L320.42 347.57 L321.01 347.36 L321.60 347.15 L322.19 346.94 L322.77 346.73 L323.36 346.52 L323.95 346.32 L324.54 346.11 L325.13 345.90 L325.71 345.69 L326.30 345.49 L326.89 345.28 L327.48 345.07 L328.07 344.87 L328.66 344.66 L329.24 344.45 L329.83 344.25 L330.42 344.04 L331.01 343.84 L331.60 343.63 L332.18 343.43 L332.77 343.22 L333.36 343.02 L333.95 342.81 L334.54 342.61 L335.13 342.41 L335.71 342.20 L336.30 342.00 L336.89 341.79 L337.48 341.59 L338.07 341.39 L338.65 341.19 L339.24 340.98 L339.83 340.78 L340.42 340.58 L341.01 340.38 L341.60 340.17 L342.18 339.97 L342.77 339.77 L343.36 339.57 L343.95 339.37 L344.54 339.17 L345.12 338.97 L345.71 338.77 L346.30 338.57 L346.89 338.37 L347.48 338.17 L348.07 337.97 L348.65 337.77 L349.24 337.57 L349.83 337.37 L350.42 337.17 L351.01 336.97 L351.60 336.77 L352.18 336.57 L352.77 336.37 L353.36 336.18 L353.95 335.98 L354.54 335.78 L355.12 335.58 L355.71 335.38 L356.30 335.19 L356.89 334.99 L357.48 334.79 L358.07 334.59 L358.65 334.40 L359.24 334.20 L359.83 334.00 L360.42 333.80 L361.01 333.61 L361.59 333.41 L362.18 333.21 L362.77 333.02 L363.36 332.82 L363.95 332.62 L364.54 332.42 L365.12 332.23 L365.71 332.03 L366.30 331.83" stroke="#ff0000" stroke-width="1.4"/>
</g>
<g stroke="#000" stroke-width="0.3" stroke-linejoin="round">
<text x="67.2" y="10.10" font-size="12.9" text-anchor="end">1.00</text>
<text x="67.2" y="42.19" font-size="12.9" text-anchor="end">0.95</text>
<text x="67.2" y="74.28" font-size="12.9" text-anchor="end">0.90</text>
<text x="67.2" y="106.38" font-size="12.9" text-anchor="end">0.85</text>
<text x="67.2" y="138.47" font-size="12.9" text-anchor="end">0.80</text>
<text x="67.2" y="170.56" font-size="12.9" text-anchor="end">0.75</text>
<text x="67.2" y="202.65" font-size="12.9" text-anchor="end">0.70</text>
<text x="67.2" y="219.65" font-size="12.9" text-anchor="end">1.00</text>
<text x="67.2" y="251.78" font-size="12.9" text-anchor="end">0.98</text>
<text x="67.2" y="283.92" font-size="12.9" text-anchor="end">0.96</text>
<text x="67.2" y="316.05" font-size="12.9" text-anchor="end">0.94</text>
<text x="67.2" y="348.18" font-size="12.9" text-anchor="end">0.92</text>
<text x="67.2" y="380.32" font-size="12.9" text-anchor="end">0.90</text>
<text x="67.2" y="412.45" font-size="12.9" text-anchor="end">0.88</text>
<text x="71.90" y="424.7" font-size="12.9" text-anchor="middle">0</text>
<text x="130.72" y="424.7" font-size="12.9" text-anchor="middle">2</text>
<text x="189.54" y="424.7" font-size="12.9" text-anchor="middle">4</text>
<text x="248.36" y="424.7" font-size="12.9" text-anchor="middle">6</text>
<text x="307.18" y="424.7" font-size="12.9" text-anchor="middle">8</text>
<text x="373.2" y="424.7" font-size="12.9" text-anchor="end" textLength="13.4" lengthAdjust="spacingAndGlyphs">10</text>
<g font-size="17.5" stroke-width="0.15"><text x="0.3" y="13.85">(</text><text transform="translate(7.3 13.85) scale(0.9 1)">a</text><text x="19.3" y="13.85">)</text><text x="0.7" y="223.75" letter-spacing="0.25">(b)</text></g>
<g transform="translate(9.9 118.3) rotate(-90)" stroke-width="0.2"><text x="0.24" y="0" font-size="13.8">σ</text><text x="7.0" y="2.8" font-size="10.3">xx</text><text x="16.9" y="0" font-size="12.9">/</text><text x="19.0" y="0" font-size="13.8">σ</text><text x="27.45" y="2.9" font-size="10.3">0</text></g>
<g transform="translate(9.9 328.2) rotate(-90)" stroke-width="0.2"><text x="0.24" y="0" font-size="13.8">σ</text><text x="7.0" y="2.8" font-size="10.3">xx</text><text x="16.9" y="0" font-size="12.9">/</text><text x="19.0" y="0" font-size="13.8">σ</text><text x="27.45" y="2.9" font-size="10.3">0</text></g>
<text x="188.9" y="453.0" font-size="12.9" letter-spacing="0.15">F<tspan font-size="10.3" dy="3.1">z</tspan><tspan dy="-3.1"> (MV/m)</tspan></text>
<path d="M174 31.60 H196.7" stroke="#ff0000" stroke-width="1.4" fill="none"/>
<text x="202.0" y="35.80" font-size="11.8">GaAs</text>
<path d="M174 45.07 H196.7" stroke="#10c468" stroke-width="1.4" fill="none"/>
<text x="202.0" y="49.27" font-size="11.8">InAs</text>
<path d="M174 58.54 H196.7" stroke="#3c3cff" stroke-width="1.4" fill="none"/>
<text x="202.0" y="62.74" font-size="11.8">InSb</text>
<text x="257.5" y="36.7" font-size="12.05">p = 2 x 10<tspan font-size="8.3" stroke-width="0.18" dy="-7.6" dx="0.4">11</tspan><tspan dy="7.6"> cm</tspan><tspan font-size="8.3" stroke-width="0.18" dy="-7.6" dx="0.3">-2</tspan></text>
<text x="124.5" y="241.2" font-size="12.05">GaAs QW</text>
<path d="M211.8 236.75 H235.1" stroke="#ff0000" stroke-width="1.4" fill="none" stroke-dasharray="1.3 1.03"/>
<text x="239.8" y="240.80" font-size="12.05">p = 1 x 10<tspan font-size="8.3" stroke-width="0.18" dy="-7.6" dx="0.4">11</tspan><tspan dy="7.6"> cm</tspan><tspan font-size="8.3" stroke-width="0.18" dy="-7.6" dx="0.3">-2</tspan></text>
<path d="M211.8 255.25 H235.1" stroke="#ff0000" stroke-width="1.4" fill="none" stroke-dasharray="5.2 4.8"/>
<text x="239.8" y="259.30" font-size="12.05">p = 1.5 x 10<tspan font-size="8.3" stroke-width="0.18" dy="-7.6" dx="0.4">11</tspan><tspan dy="7.6"> cm</tspan><tspan font-size="8.3" stroke-width="0.18" dy="-7.6" dx="0.3">-2</tspan></text>
<path d="M211.8 273.75 H235.1" stroke="#ff0000" stroke-width="1.4" fill="none"/>
<text x="239.8" y="277.80" font-size="12.05">p = 2 x 10<tspan font-size="8.3" stroke-width="0.18" dy="-7.6" dx="0.4">11</tspan><tspan dy="7.6"> cm</tspan><tspan font-size="8.3" stroke-width="0.18" dy="-7.6" dx="0.3">-2</tspan></text>
</g>
</g></svg>
</body></html>
